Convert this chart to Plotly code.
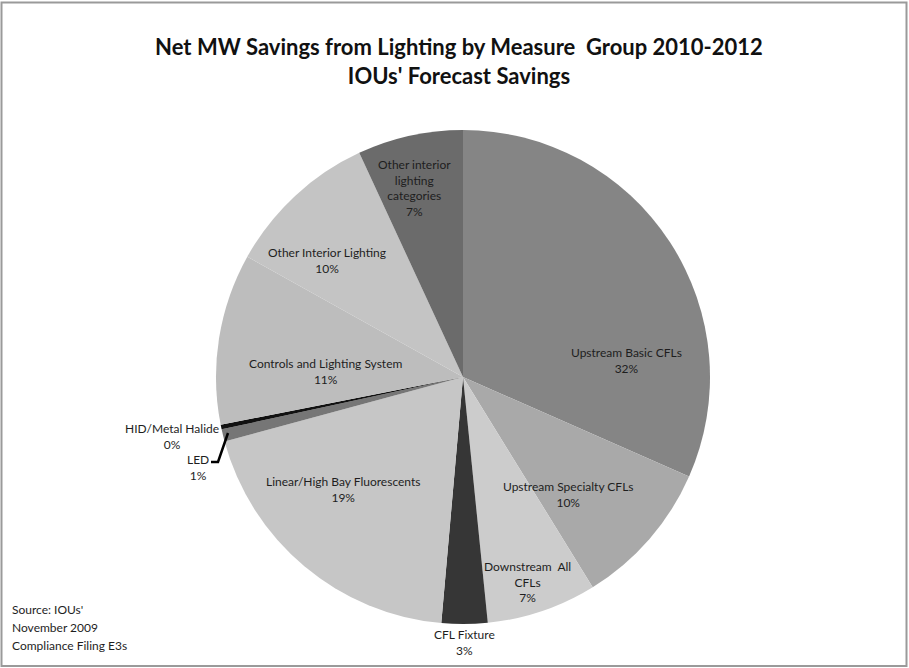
import plotly.graph_objects as go

# Net MW savings share by lighting measure group (percent of total)
categories = [
    "Upstream Basic CFLs",
    "Upstream Specialty CFLs",
    "Downstream All CFLs",
    "CFL Fixture",
    "Linear/High Bay Fluorescents",
    "LED",
    "HID/Metal Halide",
    "Controls and Lighting System",
    "Other Interior Lighting",
    "Other interior lighting categories",
]
savings_share = [31.6, 9.6, 7.2, 3.0, 19.4, 0.8, 0.3, 11.2, 10.0, 6.9]

# How each category name is wrapped in its label
label_text = [
    "Upstream Basic CFLs",
    "Upstream Specialty CFLs",
    "Downstream  All<br>CFLs",
    "CFL Fixture",
    "Linear/High Bay Fluorescents",
    "LED",
    "HID/Metal Halide",
    "Controls and Lighting System",
    "Other Interior Lighting",
    "Other interior<br>lighting<br>categories",
]

slice_colors = [
    "#858585", "#a9a9a9", "#cccccc", "#363636", "#c6c6c6",
    "#767676", "#111111", "#bdbdbd", "#c4c4c4", "#6b6b6b",
]

W, H = 909, 668


def px(x):
    return x / W


def py(y):
    return 1 - y / H


# pie centre and radius in pixels
cx, cy, r = 463, 377, 247

# label anchor points (pixels) for each slice
label_pos = [
    (626, 360), (568, 494), (527, 582), (464, 642), (343, 489),
    (198, 467), (172, 436), (325, 371), (327, 260), (414, 188),
]

fig = go.Figure()
fig.add_trace(go.Pie(
    labels=categories,
    values=savings_share,
    sort=False,
    direction="clockwise",
    rotation=0,
    textinfo="none",
    hoverinfo="label+percent",
    marker=dict(colors=slice_colors, line=dict(width=0)),
    domain=dict(x=[px(cx - r), px(cx + r)], y=[py(cy + r), py(cy - r)]),
    showlegend=False,
))

total = sum(savings_share)
annotations = []
for name, val, (lx, ly) in zip(label_text, savings_share, label_pos):
    pct = round(val / total * 100)
    annotations.append(dict(
        x=px(lx), y=py(ly), xref="paper", yref="paper",
        text=f"{name}<br>{pct}%", showarrow=False,
        xanchor="center", yanchor="middle", align="center",
        font=dict(family="Lato, Carlito, sans-serif", size=12, color="#1e1e1e"),
    ))

source_lines = ["Source: IOUs'", "November 2009", "Compliance Filing E3s"]
for i, line in enumerate(source_lines):
    annotations.append(dict(
        x=px(10), y=py(609 + 18 * i), xref="paper", yref="paper",
        text=line, showarrow=False, xanchor="left", yanchor="middle",
        font=dict(family="Lato, Carlito, sans-serif", size=12, color="#1e1e1e"),
    ))

shapes = [
    # outer chart border
    dict(type="rect", xref="paper", yref="paper",
         x0=px(1.5), x1=px(906.5), y0=py(666), y1=py(2.5),
         line=dict(color="#9a9a9a", width=2), fillcolor="rgba(0,0,0,0)"),
    # leader line for the LED label
    dict(type="path", xref="paper", yref="paper",
         path=f"M {px(228)},{py(433)} L {px(218)},{py(462)} L {px(211)},{py(462)}",
         line=dict(color="#000000", width=2.5)),
]

fig.update_layout(
    width=W, height=H,
    margin=dict(l=0, r=0, t=0, b=0),
    paper_bgcolor="white",
    plot_bgcolor="white",
    title=dict(
        text="Net MW Savings from Lighting by Measure  Group 2010-2012<br>IOUs' Forecast Savings",
        x=px(459), xanchor="center", y=py(55), yanchor="middle",
        font=dict(family="Lato, Carlito, sans-serif", size=22, color="#111111", weight="bold"),
    ),
    annotations=annotations,
    shapes=shapes,
)

fig.write_html("out.html")
